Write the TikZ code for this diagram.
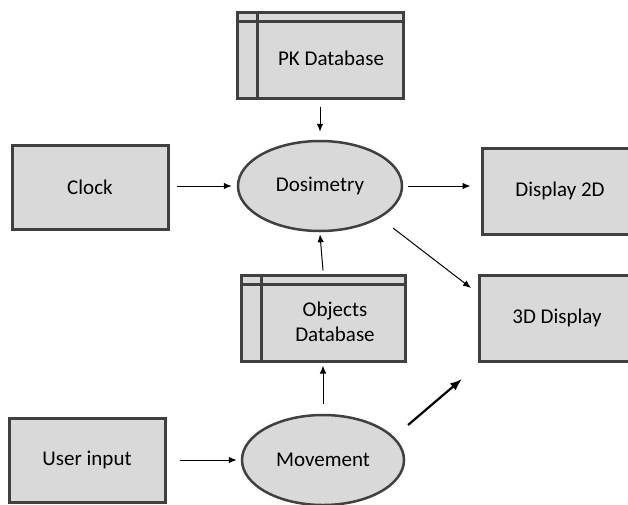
\documentclass[tikz,border=0pt]{standalone}
\usepackage{fontspec}
\setmainfont{Carlito}
\usetikzlibrary{arrows.meta,shapes.geometric}
\definecolor{boxfill}{HTML}{D9D9D9}
\definecolor{boxline}{HTML}{404040}
\begin{document}
\begin{tikzpicture}[x=1pt,y=-1pt,
  every node/.style={font=\fontsize{21}{25}\selectfont},
  proc/.style={draw=boxline,fill=boxfill,line width=3pt,rectangle,inner sep=0pt},
  blob/.style={draw=boxline,fill=boxfill,line width=2.5pt,ellipse,inner sep=0pt},
  inner/.style={draw=boxline,line width=3pt},
  flow/.style={line width=1pt,-{Latex[length=8pt,width=6.5pt]}},
  bigflow/.style={line width=2.2pt,-{Latex[length=12pt,width=9pt]}}]
\useasboundingbox (0,0) rectangle (628,504);
\clip (0,0) rectangle (628,504);
% databases
\node[proc,minimum width=166pt,minimum height=86pt] (pk) at (320,55) {};
\draw[inner] ([xshift=22pt]pk.north west) -- ([xshift=22pt]pk.south west);
\draw[inner] ([yshift=-11pt]pk.north west) -- ([yshift=-11pt]pk.north east);
\node (pkt) at (331,58) {PK Database};
\node[proc,minimum width=164pt,minimum height=86pt] (obj) at (323,318) {};
\draw[inner] ([xshift=22pt]obj.north west) -- ([xshift=22pt]obj.south west);
\draw[inner] ([yshift=-11pt]obj.north west) -- ([yshift=-11pt]obj.north east);
\node[align=center,font=\fontsize{21}{25}\selectfont] (objt) at (335,322) {Objects\\Database};
% boxes
\node[proc,minimum width=156pt,minimum height=84pt] (clock) at (90,187) {Clock};
\node[proc,minimum width=156pt,minimum height=86pt] (d2) at (560,191) {Display 2D};
\node[proc,minimum width=156pt,minimum height=86pt] (d3) at (557,318) {3D Display};
\node[proc,minimum width=156pt,minimum height=84pt] (user) at (87,460) {User input};
% processes
\node[blob,minimum width=164pt,minimum height=90pt] (dos) at (320,186) {Dosimetry};
\node[blob,minimum width=162pt,minimum height=90pt] (mov) at (323,460) {Movement};
% connectors
\coordinate (a) at (462,379);
\draw[flow] ([yshift=-7pt]pk.south) -- ([yshift=8pt]dos.north);
\draw[flow] ([xshift=7pt]clock.east |- dos.west) -- ([xshift=-5pt]dos.west);
\draw[flow] ([xshift=5pt]dos.east) -- ([xshift=-10pt]dos.east -| d2.west);
\draw[flow] (393,228) -- (471,288);
\draw[flow] ([yshift=3pt]obj.north) -- ([yshift=-2pt]dos.south);
\draw[flow] ([yshift=10pt]mov.north) -- ([yshift=-3pt]obj.south);
\draw[flow] ([xshift=13pt]user.east) -- ([xshift=-4pt]mov.west);
\draw[bigflow] (408,425) -- (a);
\end{tikzpicture}
\end{document}
